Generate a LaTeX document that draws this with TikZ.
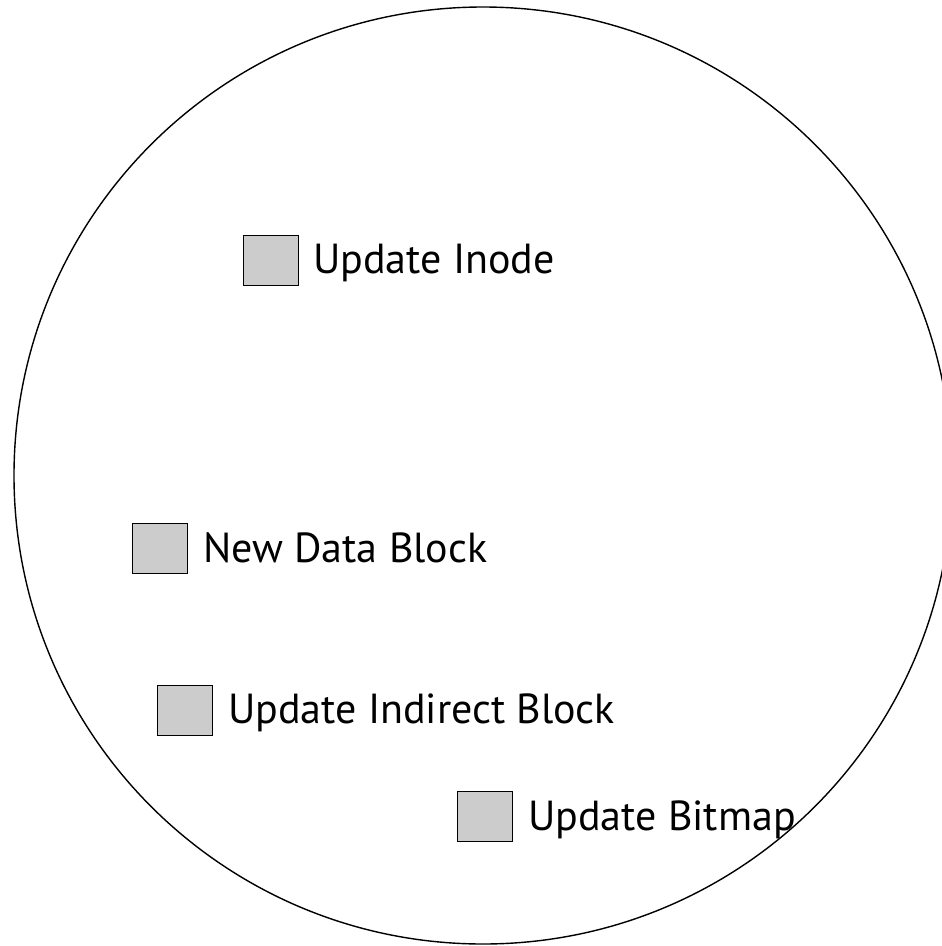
\documentclass[tikz,border=0pt]{standalone}
\usepackage{fontspec}
\setmainfont{PT Sans}
\begin{document}
\begin{tikzpicture}[x=1pt,y=-1pt,
  blk/.style={draw=black,line width=1.3pt,fill=black!20,minimum width=55pt,minimum height=50pt,inner sep=0pt,anchor=north west},
  lbl/.style={anchor=base west,inner sep=0pt,font=\fontsize{42}{50}\selectfont}]
\useasboundingbox (0,0) rectangle (942,946);
\clip (0,0) rectangle (942,946);
% outer disk
\draw[line width=1.4pt] (483,475.5) ellipse [x radius=469, y radius=468.5];
% blocks and their labels
\node[blk] (inode) at (243,235) {};
\node[lbl] (inodeL) at (313,273) {Update Inode};
\node[blk] (data) at (132,523) {};
\node[lbl] (dataL) at (203,562) {New Data Block};
\node[blk] (indir) at (157,685) {};
\node[lbl] (indirL) at (228,723) {Update Indirect Block};
\node[blk] (bmap) at (457,791) {};
\node[lbl] (bmapL) at (528,830) {Update Bitmap};
\end{tikzpicture}
\end{document}
